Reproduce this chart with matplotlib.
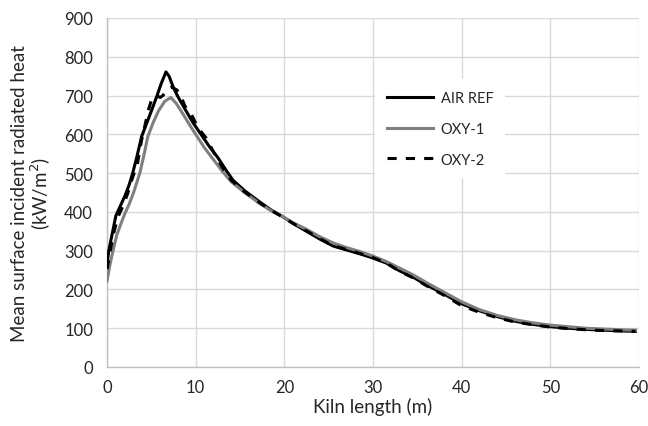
import matplotlib
matplotlib.use("Agg")
import matplotlib.pyplot as plt

plt.rcParams['font.family'] = ['Lato', 'DejaVu Sans']

air_x = [0, 0.2, 0.6, 1.0, 1.5, 2.0, 2.5, 2.9, 3.4, 3.9, 4.5, 5.0, 5.6, 6.1, 6.65, 7.0, 7.5, 8.0,
         8.8, 9.7, 10.6, 11.5, 12.5, 13.5, 14.2, 15.5, 17.2, 18.5, 19.8, 21, 22.5, 24, 25.5, 27,
         28.5, 30, 31.5, 33, 34.5, 36, 38, 40, 42, 44, 46, 48, 50, 52, 54, 56, 58, 59.6]
air_y = [262, 300, 345, 390, 415, 440, 470, 500, 545, 594, 630, 660, 697, 730, 761, 750, 720, 697,
         665, 630, 600, 570, 540, 505, 482, 455, 426, 405, 388, 370, 350, 330, 312, 302,
         292, 281, 268, 248, 232, 212, 188, 163, 145, 130, 118, 110, 104, 100, 97, 95, 93, 92]

oxy1_x = [0, 0.3, 0.64, 1.1, 1.5, 2.0, 2.5, 3.0, 3.7, 4.2, 4.6, 5.2, 5.8, 6.5, 7.2, 7.8, 8.5, 9.3,
          10.0, 11, 12, 13, 14, 15.5, 17.2, 18.5, 19.8, 21, 22.5, 24, 25.5, 27, 28.5, 30, 31.5,
          33, 34.5, 36, 38, 40, 42, 44, 46, 48, 50, 52, 54, 56, 58, 59.6]
oxy1_y = [222, 260, 296, 340, 365, 395, 420, 450, 500, 550, 594, 630, 660, 685, 695, 680, 655, 625,
          600, 565, 535, 505, 478, 450, 422, 403, 388, 372, 355, 336, 320, 308, 298, 286, 272,
          255, 238, 218, 193, 168, 148, 133, 122, 114, 108, 104, 100, 98, 96, 95]

oxy2_x = [0, 0.3, 0.7, 1.2, 1.7, 2.3, 2.9, 3.4, 3.9, 4.3, 4.7, 5.1, 5.6, 6.0, 6.3, 6.8, 7.3, 7.9,
          8.4, 8.8, 9.4, 10.1, 10.5, 11.2, 12, 13, 14, 15.5, 17.2, 18.5, 19.8, 21, 22.5, 24, 25.5,
          27, 28.5, 30, 31.5, 33, 34.5, 36, 38, 40, 42, 44, 46, 48, 50, 52, 54, 56, 58, 59.6]
oxy2_y = [252, 290, 340, 385, 410, 445, 490, 520, 585, 625, 665, 695, 700, 695, 700, 715, 722, 714,
          695, 672, 657, 624, 610, 590, 555, 515, 482, 452, 424, 404, 387, 370, 351, 331, 313,
          303, 293, 282, 268, 247, 230, 210, 185, 158, 141, 127, 116, 109, 103, 99, 96, 94, 93, 92]

series_labels = ["AIR REF", "OXY-1", "OXY-2"]
x_ticks = [0, 10, 20, 30, 40, 50, 60]
y_ticks = [0, 100, 200, 300, 400, 500, 600, 700, 800, 900]

fig = plt.figure(figsize=(6.48, 4.27), dpi=100)
ax = fig.add_axes([107/648, 1 - 368/427, (639 - 107)/648, (368 - 19)/427])

ax.plot(air_x, air_y, color='black', lw=2.2, label=series_labels[0], zorder=3)
ax.plot(oxy1_x, oxy1_y, color='#7f7f7f', lw=2.2, label=series_labels[1], zorder=4)
ax.plot(oxy2_x, oxy2_y, color='black', lw=2.2, ls=(0, (3, 3)), label=series_labels[2], zorder=5)

ax.set_xlim(0, 60)
ax.set_ylim(0, 900)
ax.set_xticks(x_ticks)
ax.set_yticks(y_ticks)
ax.grid(True, color='#d9d9d9', lw=1.0, zorder=0)
ax.set_axisbelow(True)
for s in ['top', 'right']:
    ax.spines[s].set_visible(False)
for s in ['left', 'bottom']:
    ax.spines[s].set_color('#bfbfbf')
    ax.spines[s].set_linewidth(1.0)
ax.tick_params(length=0, labelsize=12, colors='#262626')
ax.tick_params(axis='y', pad=10)
ax.tick_params(axis='x', pad=9)
ax.set_xlabel("Kiln length (m)", fontsize=13.5, color='#262626', labelpad=1)
ax.set_ylabel("Mean surface incident radiated heat\n(kW/m$^2$)", fontsize=13.5,
              color='#262626', labelpad=8, linespacing=1.05)

leg = ax.legend(loc='upper left', bbox_to_anchor=(0.49, 0.845), frameon=True,
                fontsize=10.5, handlelength=3.2, labelspacing=1.15, borderpad=0.8,
                handletextpad=0.5)
leg.get_frame().set_facecolor('white')
leg.get_frame().set_edgecolor('none')
leg.get_frame().set_alpha(1)
leg.get_frame().set_boxstyle('square', pad=0)
for t in leg.get_texts():
    t.set_color('#262626')

fig.savefig("out.png", dpi=100)
